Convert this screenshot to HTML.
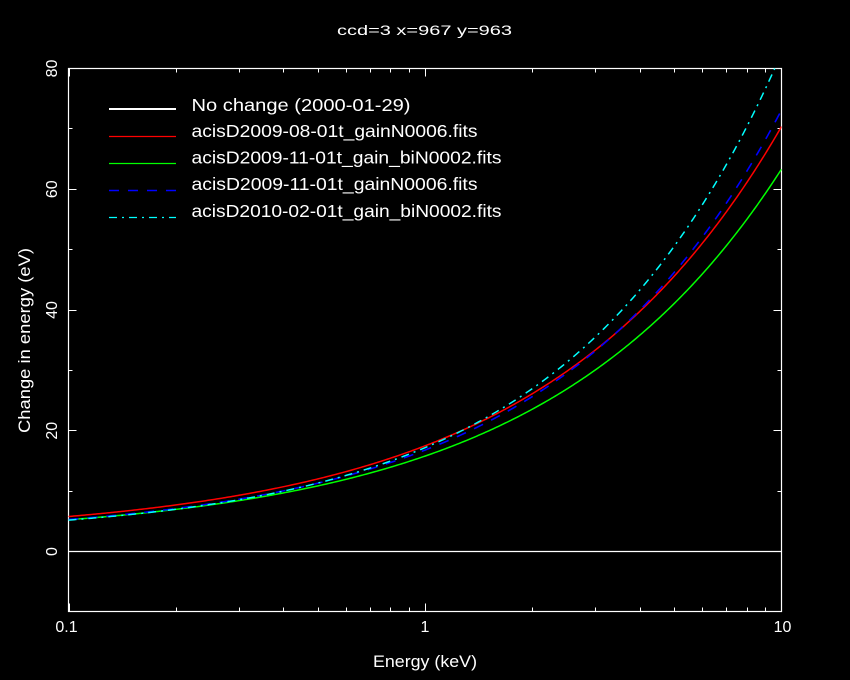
<!DOCTYPE html>
<html>
<head>
<meta charset="utf-8">
<style>
html,body{margin:0;padding:0;background:#000;}
svg{display:block;}
text{font-family:"Liberation Sans",sans-serif;fill:#fff;}
</style>
</head>
<body>
<svg id="s" width="850" height="680" viewBox="0 0 850 680" xmlns="http://www.w3.org/2000/svg">
<rect x="0" y="0" width="850" height="680" fill="#000"/>
<defs>
<clipPath id="cp"><rect x="68.5" y="68.5" width="713" height="543"/></clipPath>
</defs>
<text x="337" y="35" font-size="14" textLength="175" lengthAdjust="spacingAndGlyphs">ccd=3 x=967 y=963</text>
<g id="ticks" stroke="#fff" stroke-width="1"></g>
<rect x="68.5" y="68.5" width="713" height="543" fill="none" stroke="#fff" stroke-width="1.2"/>
<line x1="68.5" y1="551.5" x2="781.5" y2="551.5" stroke="#fff" stroke-width="1.2"/>
<g clip-path="url(#cp)" fill="none">
<path id="red" stroke="#ff0000" stroke-width="1.5"/>
<path id="green" stroke="#00ff00" stroke-width="1.5"/>
<path id="blue" stroke="#0000ff" stroke-width="1.6" stroke-dasharray="10 9"/>
<path id="cyan" stroke="#00ffff" stroke-width="1.5" stroke-dasharray="8 5 2 5"/>
</g>
<!-- legend -->
<line x1="109" y1="109" x2="176" y2="109" stroke="#fff" stroke-width="2"/>
<line x1="109" y1="136.5" x2="176" y2="136.5" stroke="#ff0000" stroke-width="1.2"/>
<line x1="109" y1="163.5" x2="176" y2="163.5" stroke="#00ff00" stroke-width="1.2"/>
<line x1="109" y1="190.5" x2="176" y2="190.5" stroke="#0000ff" stroke-width="1.5" stroke-dasharray="10 9"/>
<line x1="109" y1="217.5" x2="176" y2="217.5" stroke="#00ffff" stroke-width="1.3" stroke-dasharray="8 5 2 5"/>
<text x="191.5" y="111" font-size="17.5" textLength="219" lengthAdjust="spacingAndGlyphs">No change (2000-01-29)</text>
<text x="191.5" y="137" font-size="17.5" textLength="286" lengthAdjust="spacingAndGlyphs">acisD2009-08-01t_gainN0006.fits</text>
<text x="191.5" y="163.5" font-size="17.5" textLength="310" lengthAdjust="spacingAndGlyphs">acisD2009-11-01t_gain_biN0002.fits</text>
<text x="191.5" y="190" font-size="17.5" textLength="286" lengthAdjust="spacingAndGlyphs">acisD2009-11-01t_gainN0006.fits</text>
<text x="191.5" y="217" font-size="17.5" textLength="310" lengthAdjust="spacingAndGlyphs">acisD2010-02-01t_gain_biN0002.fits</text>
<!-- x tick labels -->
<text x="66.5" y="632" font-size="16" text-anchor="middle">0.1</text>
<text x="425" y="632" font-size="16" text-anchor="middle">1</text>
<text x="782.5" y="632" font-size="16" text-anchor="middle">10</text>
<text x="373" y="667" font-size="17" textLength="104" lengthAdjust="spacingAndGlyphs">Energy (keV)</text>
<!-- y tick labels -->
<text transform="translate(57,551.5) rotate(-90)" font-size="16" text-anchor="middle">0</text>
<text transform="translate(57,430.7) rotate(-90)" font-size="16" text-anchor="middle">20</text>
<text transform="translate(57,310) rotate(-90)" font-size="16" text-anchor="middle">40</text>
<text transform="translate(57,189.2) rotate(-90)" font-size="16" text-anchor="middle">60</text>
<text transform="translate(57,68.5) rotate(-90)" font-size="16" text-anchor="middle">80</text>
<text transform="translate(30,433) rotate(-90)" font-size="17" textLength="185" lengthAdjust="spacingAndGlyphs">Change in energy (eV)</text>
</svg>
<script>
(function(){
  var X0=68.5, DEC=356.5, Y0=551.5, SY=6.0375;
  function xp(E){return X0+(Math.log10(E)+1)*DEC;}
  function yp(v){return Y0-v*SY;}
  var ns="http://www.w3.org/2000/svg";
  var g=document.getElementById("ticks");
  function ln(x1,y1,x2,y2){var l=document.createElementNS(ns,"line");l.setAttribute("x1",x1);l.setAttribute("y1",y1);l.setAttribute("x2",x2);l.setAttribute("y2",y2);g.appendChild(l);}
  // x ticks
  [0.1,1].forEach(function(d){
    for(var k=1;k<=10;k++){
      var E=d*k, x=Math.round(xp(E))+0.5; if(k==10 && d==1){x=781.5;}
      var L=(k==1||k==10)?8:4;
      ln(x,611.5,x,611.5-L); ln(x,68.5,x,68.5+L);
    }
  });
  // y ticks
  for(var v=-10;v<=80;v+=10){
    var y=Math.round(yp(v)-0.5)+0.5;
    var L=(v%20==0)?8:4;
    ln(68.5,y,68.5+L,y); ln(781.5,y,781.5-L,y);
  }
  var curves={
    red:[2.47,15.03,0.655],
    green:[2.25,13.55,0.654],
    blue:[2.35,14.45,0.690],
    cyan:[2.5,14.7,0.736]
  };
  Object.keys(curves).forEach(function(k){
    var c=curves[k], d="";
    for(var i=0;i<=400;i++){
      var u=-1+2*i/400, E=Math.pow(10,u);
      var v=c[0]+c[1]*Math.pow(E,c[2]);
      d+=(i?"L":"M")+xp(E).toFixed(2)+","+yp(v).toFixed(2);
    }
    document.getElementById(k).setAttribute("d",d);
  });
})();
</script>
</body>
</html>
